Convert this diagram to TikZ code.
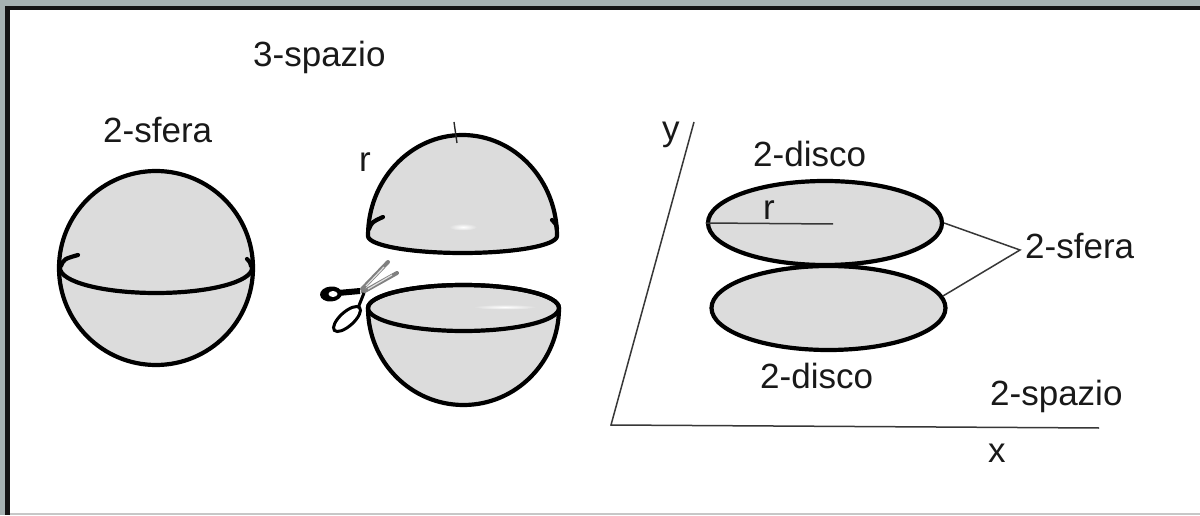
\documentclass[tikz,border=0pt]{standalone}
\usepackage{fontspec}
\setmainfont{Liberation Sans}
\usetikzlibrary{shapes.geometric}
\definecolor{framegray}{RGB}{166,178,178}
\definecolor{bodygray}{RGB}{220,220,220}
\definecolor{inkgray}{RGB}{55,55,55}
\begin{document}
\begin{tikzpicture}[x=1pt,y=1pt,
  lbl/.style={font=\fontsize{35}{42}\selectfont, text=black!90, inner sep=0pt, anchor=base west},
  outline/.style={line width=4.2pt, draw=black},
  thinline/.style={line width=1.5pt, draw=inkgray},
  disk/.style={ellipse, draw=black, line width=4.2pt, fill=bodygray,
    minimum width=234pt, minimum height=84pt, inner sep=0pt}]
\useasboundingbox (0,0) rectangle (1200,515);
% window frame
\fill[framegray] (0,0) rectangle (1200,515);
\fill[black!92] (5,0) rectangle (1200,509);
\fill[white] (10,2) rectangle (1200,505);
\fill[black!22] (10,0) rectangle (1200,2);

% ---- the whole sphere ----
\filldraw[outline, fill=bodygray] (156,247) circle (97);
\draw[outline] (60,247) arc[start angle=180, end angle=360, x radius=96, y radius=25];
\draw[outline, line cap=round] (61,249) .. controls (64,256) .. (78,260);
\draw[outline, line cap=round] (251,249) .. controls (250,253) .. (247,256);

% ---- upper half ----
\filldraw[outline, fill=bodygray] (368,279) arc[start angle=180, end angle=0, x radius=94.5, y radius=101]
  arc[start angle=0, end angle=-180, x radius=94.5, y radius=17] -- cycle;
\shade[inner color=white, outer color=bodygray] (463,288) ellipse (14 and 3.5);
\draw[outline, line cap=round] (369,286) .. controls (372,293) .. (383,298);
\draw[outline, line cap=round] (557,286) .. controls (556,291) .. (552,295);
\draw[line width=1.4pt, black!85] (454,393) -- (457,372);

% ---- lower half ----
\filldraw[outline, fill=bodygray] (368,207) arc[start angle=180, end angle=0, x radius=95.5, y radius=23]
  arc[start angle=0, end angle=-180, x radius=95.5, y radius=97] -- cycle;
\draw[outline] (463.5,207) ellipse (95.5 and 23);
\shade[inner color=white, outer color=bodygray] (505,208) ellipse (32 and 2.5);

% ---- scissors ----
\draw[line width=4pt, black!50, line cap=round] (362,226) -- (388,253);
\draw[line width=4pt, black!50, line cap=round] (363,223) -- (397,242);
\draw[line width=1.2pt, white!75!gray] (366,229) -- (384,248);
\draw[line width=1.2pt, white!75!gray] (368,226) -- (392,240);
\draw[black, line width=3pt, fill=white, rotate around={42:(347,196)}] (347,196) ellipse (17 and 7);
\draw[black, line width=3pt] (358,207) -- (364,222);
\fill[black, rotate around={5:(331,221)}] (331,221) ellipse (11 and 7.5);
\draw[black, line width=6pt] (338,222) -- (360,224);
\fill[white] (333,221) ellipse (4.5 and 3);

% ---- plane with the two discs ----
\coordinate (origin) at (611,90);
\coordinate (ytop) at (694,393);
\coordinate (xend) at (1099,87);
\draw[thinline] (ytop) -- (origin) -- (xend);

\node[disk] (dtop) at (825,292) {};
\node[disk] (dbot) at (828.5,207) {};
\coordinate (rad) at (833,291);
\draw[thinline] (dtop.west) -- (rad);

\coordinate (join) at (1020,265);
\draw[thinline] (dtop.east) -- (join) -- (dbot.6);

% ---- labels ----
\node[lbl] (sferaL) at (103,372) {2-sfera};
\node[lbl] (spazio3) at (253,448) {3-spazio};
\node[lbl] (rA) at (359,343) {r};
\node[lbl] (ylab) at (662,374) {y};
\node[lbl] (discoT) at (753,348) {2-disco};
\node[lbl] (rB) at (763,295) {r};
\node[lbl] (discoB) at (760,127) {2-disco};
\node[lbl] (sferaR) at (1025,257) {2-sfera};
\node[lbl] (spazio2) at (990,110) {2-spazio};
\node[lbl] (xlab) at (988,53) {x};
\end{tikzpicture}
\end{document}
